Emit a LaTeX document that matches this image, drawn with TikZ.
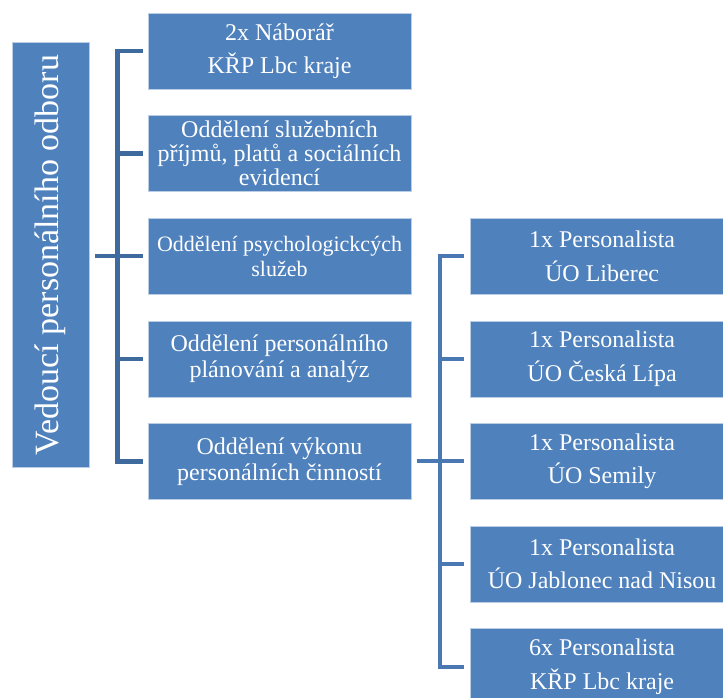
\documentclass[tikz,border=0pt]{standalone}
\usepackage{fontspec}
\setmainfont{Liberation Serif}
\newfontfamily\boxfont{Liberation Serif}
\usepackage{tikz}
\usetikzlibrary{positioning,calc}

\definecolor{boxblue}{HTML}{4F81BD}
\definecolor{linkdark}{HTML}{3E6A9D}
\definecolor{linklight}{HTML}{4A78B2}

\begin{document}
\begin{tikzpicture}[
    x=1pt, y=-1pt,
    node distance=26pt,
    unit/.style={rectangle, fill=boxblue, draw=white!60!boxblue, line width=0.6pt, text=white,
        align=center, inner sep=0pt, minimum width=263pt, minimum height=76pt,
        font=\boxfont\fontsize{24}{26}\selectfont},
    head/.style={rectangle, fill=boxblue, draw=white!60!boxblue, line width=0.6pt, text=white,
        rotate=90, inner sep=0pt, minimum width=425pt, minimum height=77pt,
        font=\boxfont\fontsize{34}{40}\selectfont},
    linkL/.style={draw=linkdark, line width=4.5pt},
    linkR/.style={draw=linklight, line width=4pt}
]
    \useasboundingbox (0,0) rectangle (723,697);
    \clip (0,0) rectangle (723,697);

    \node[head] (root) at (50.5,255) {Vedoucí personálního odboru};

    \node[unit] (m1) at (279.5,51) {2x Náborář\\[7pt]KŘP Lbc kraje};
    \node[unit, below=of m1, font=\boxfont\fontsize{24}{24}\selectfont] (m2)
        {Oddělení služebních\\příjmů, platů a sociálních\\evidencí};
    \node[unit, below=of m2, font=\boxfont\fontsize{22}{25}\selectfont] (m3)
        {Oddělení psychologickcých\\služeb};
    \node[unit, below=of m3] (m4) {Oddělení personálního\\plánování a analýz};
    \node[unit, below=of m4] (m5) {Oddělení výkonu\\personálních činností};

    \node[unit, right=59pt of m3] (r1) {1x Personalista\\[7.5pt]ÚO Liberec};
    \node[unit, below=of r1] (r2) {1x Personalista\\[7.5pt]ÚO Česká Lípa};
    \node[unit, below=of r2] (r3) {1x Personalista\\[7.5pt]ÚO Semily};
    \node[unit, below=of r3] (r4) {1x Personalista\\[7.5pt]ÚO Jablonec nad Nisou};
    \node[unit, below=of r4] (r5) {6x Personalista\\[7.5pt]KŘP Lbc kraje};

    % left bracket
    \draw[linkL] ([xshift=-5pt]m1.west) -| ([xshift=-30pt]m5.west) -- ([xshift=-5pt]m5.west);
    \foreach \i in {2,3,4}
        \draw[linkL] ([xshift=-5pt]m\i.west) -- ([xshift=-30pt]m\i.west);
    \draw[linkL] ([xshift=6pt]root.south |- m3.west) -- ([xshift=-30pt]m3.west);

    % right bracket
    \draw[linkR] ([xshift=-6pt]r1.west) -| ([xshift=-30pt]r5.west) -- ([xshift=-6pt]r5.west);
    \foreach \i in {2,3,4}
        \draw[linkR] ([xshift=-6pt]r\i.west) -- ([xshift=-30pt]r\i.west);
    \draw[linkR] ([xshift=6pt]m5.east) -- ([xshift=-30pt]r3.west);
\end{tikzpicture}
\end{document}
